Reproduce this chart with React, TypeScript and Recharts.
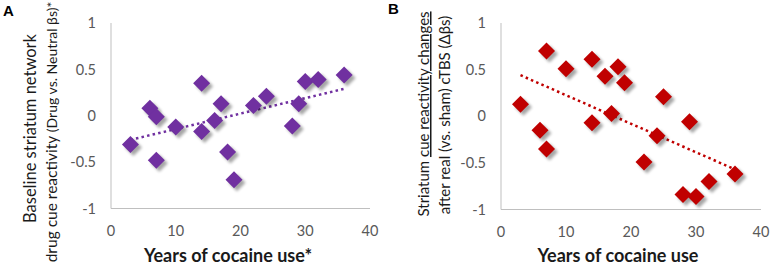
import React from 'react';
import { ScatterChart, Scatter, XAxis, YAxis } from 'recharts';

// Panel A: baseline striatum drug cue reactivity vs years of use
const yearsA = [3, 6, 7, 7, 10, 14, 14, 16, 17, 18, 19, 22, 24, 28, 29, 30, 32, 36];
const valuesA = [-0.31, 0.08, -0.01, -0.48, -0.12, 0.35, -0.17, -0.05, 0.13, -0.39, -0.69, 0.11, 0.21, -0.11, 0.13, 0.37, 0.39, 0.44];
const trendYearsA = [3, 36];
const trendValuesA = [-0.26, 0.29];

// Panel B: change in cue reactivity after real vs sham cTBS
const yearsB = [3, 6, 7, 7, 10, 14, 14, 16, 17, 18, 19, 22, 24, 25, 29, 28, 30, 32, 36];
const valuesB = [0.13, -0.15, -0.35, 0.7, 0.51, 0.61, -0.07, 0.43, 0.03, 0.53, 0.36, -0.49, -0.21, 0.21, -0.06, -0.84, -0.86, -0.7, -0.62];
const trendYearsB = [3, 36];
const trendValuesB = [0.44, -0.57];

const xTicks = [0, 10, 20, 30, 40];
const yTicks = [-1, -0.5, 0, 0.5, 1];

const FONT = 'Lato, "Open Sans", sans-serif';
const PURPLE = '#7030a0';
const RED = '#c00000';

const toPoints = (xs: number[], ys: number[]) => xs.map((x, i) => ({ x, y: ys[i] }));

const makeDiamond = (color: string) => (props: any) => {
  const { cx, cy } = props;
  if (cx == null || cy == null) return <g />;
  const r = 8.5;
  const d = `M${cx},${cy - r}L${cx + r},${cy}L${cx},${cy + r}L${cx - r},${cy}Z`;
  return (
    <g>
      <path d={d} fill="#000" opacity={0.35} transform="translate(3,3)" filter="url(#dshadow)" />
      <path d={d} fill={color} />
    </g>
  );
};

const noShape = () => <g />;

const tickStyle = { fontSize: 14.5, fill: '#595959', fontFamily: FONT };

interface PanelProps {
  left: number;
  yAxisWidth: number;
  rightMargin: number;
  bottom: number;
  points: { x: number; y: number }[];
  trend: { x: number; y: number }[];
  color: string;
}

const Panel: React.FC<PanelProps> = ({ left, yAxisWidth, rightMargin, bottom, points, trend, color }) => (
  <div style={{ position: 'absolute', left, top: 0 }}>
    <ScatterChart width={386} height={265} margin={{ top: 23, right: rightMargin, bottom: 0, left: 0 }}>
      <XAxis
        type="number"
        dataKey="x"
        domain={[0, 40]}
        ticks={xTicks}
        tickLine={false}
        tickMargin={17}
        tickSize={0}
        height={bottom}
        axisLine={{ stroke: '#bfbfbf' }}
        tick={tickStyle}
      />
      <YAxis
        type="number"
        dataKey="y"
        domain={[-1, 1]}
        ticks={yTicks}
        tickLine={false}
        tickSize={0}
        tickMargin={15}
        width={yAxisWidth}
        axisLine={{ stroke: '#bfbfbf' }}
        tick={tickStyle}
      />
      <Scatter
        data={trend}
        line={{ stroke: color, strokeWidth: 2.5, strokeDasharray: '2.5 3.2' }}
        shape={noShape}
        isAnimationActive={false}
      />
      <Scatter data={points} shape={makeDiamond(color)} isAnimationActive={false} />
    </ScatterChart>
  </div>
);

export default function App() {
  return (
    <div style={{ position: 'absolute', left: 0, top: 0, width: 772, height: 265, background: '#fff', overflow: 'hidden' }}>
      <svg width={0} height={0} style={{ position: 'absolute' }}>
        <defs>
          <filter id="dshadow" x="-50%" y="-50%" width="200%" height="200%">
            <feGaussianBlur stdDeviation={1.6} />
          </filter>
        </defs>
      </svg>
      <Panel
        left={0}
        yAxisWidth={111}
        rightMargin={16}
        bottom={56.5}
        points={toPoints(yearsA, valuesA)}
        trend={toPoints(trendYearsA, trendValuesA)}
        color={PURPLE}
      />
      <Panel
        left={386}
        yAxisWidth={115}
        rightMargin={11}
        bottom={55.5}
        points={toPoints(yearsB, valuesB)}
        trend={toPoints(trendYearsB, trendValuesB)}
        color={RED}
      />
      <svg width={772} height={265} style={{ position: 'absolute', left: 0, top: 0, pointerEvents: 'none' }}>
        <text x={3} y={16} fontFamily="'Liberation Sans', Arial, sans-serif" fontWeight="bold" fontSize={15} fill="#000">A</text>
        <text x={388} y={14} fontFamily="'Liberation Sans', Arial, sans-serif" fontWeight="bold" fontSize={15} fill="#000">B</text>

        <g fontFamily={FONT} fill="#1a1a1a">
          <text transform="translate(36,128.5) rotate(-90)" textAnchor="middle" fontSize={16.5}>Baseline striatum network</text>
          <text transform="translate(57,132) rotate(-90)" textAnchor="middle" fontSize={15.5}>
            drug cue reactivity <tspan fontSize={14}>(Drug vs. Neutral βs)*</tspan>
          </text>
          <text transform="translate(429,114) rotate(-90)" textAnchor="middle" fontSize={15}>
            Striatum <tspan textDecoration="underline">cue reactivity changes</tspan>
          </text>
          <text transform="translate(450,115) rotate(-90)" textAnchor="middle" fontSize={15}>after real (vs. sham) cTBS (Δβs)</text>

          <text x={228} y={262} textAnchor="middle" fontSize={18} fontWeight="bold">Years of cocaine use*</text>
          <text x={618} y={262} textAnchor="middle" fontSize={18} fontWeight="bold">Years of cocaine use</text>
        </g>
      </svg>
    </div>
  );
}
